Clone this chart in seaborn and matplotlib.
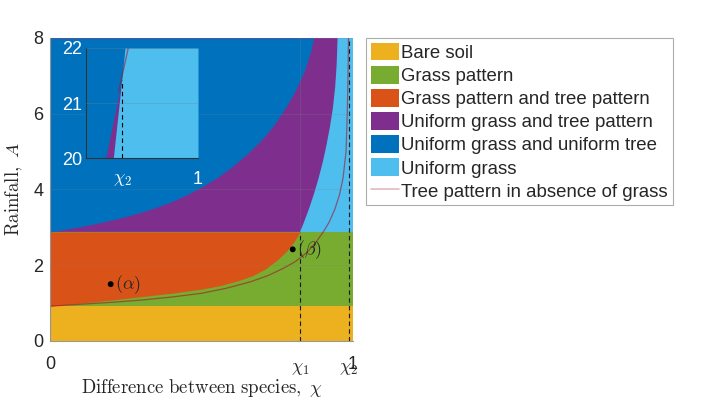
import seaborn as sns
import matplotlib.pyplot as plt
from matplotlib.transforms import ScaledTranslation

sns.set_style("white")
plt.rcParams["font.family"] = ["Liberation Sans", "DejaVu Sans"]
plt.rcParams["mathtext.fontset"] = "cm"

# phase boundaries (chi, rainfall A)
A_bare = 0.92
A_top_pattern = 2.88
chi1 = 0.825
chi2 = 0.9865

# grass pattern / grass+tree pattern boundary
chi_gp = [0, 0.1, 0.2, 0.3, 0.4, 0.5, 0.56, 0.62, 0.67, 0.71, 0.75, 0.78, 0.805, 0.825]
A_gp = [0.92, 1.0, 1.08, 1.17, 1.26, 1.37, 1.46, 1.59, 1.73, 1.9, 2.14, 2.37, 2.62, 2.88]

# uniform tree / tree pattern boundary
chi_ut = [0, 0.05, 0.1, 0.15, 0.2, 0.25, 0.3, 0.35, 0.4, 0.45, 0.5, 0.55, 0.6,
          0.65, 0.7, 0.74, 0.78, 0.81, 0.84, 0.86, 0.87]
A_ut = [2.88, 2.95, 3.02, 3.1, 3.19, 3.29, 3.4, 3.53, 3.68, 3.86, 4.07, 4.31, 4.6,
        4.94, 5.33, 5.72, 6.2, 6.62, 7.15, 7.65, 8.0]

# tree pattern / uniform grass boundary
chi_ug = [0.825, 0.84, 0.855, 0.87, 0.885, 0.9, 0.912, 0.923, 0.933, 0.941, 0.946, 0.949]
A_ug = [2.88, 3.18, 3.5, 3.86, 4.26, 4.72, 5.16, 5.62, 6.12, 6.7, 7.3, 8.0]

# tree pattern without grass
chi_tree = [0, 0.1, 0.2, 0.3, 0.4, 0.5, 0.58, 0.66, 0.72, 0.77, 0.81, 0.845, 0.875,
            0.9, 0.92, 0.94, 0.955, 0.967, 0.977, 0.981, 0.9835, 0.985]
A_tree = [0.92, 0.97, 1.02, 1.08, 1.16, 1.26, 1.39, 1.56, 1.73, 1.92, 2.1, 2.32, 2.58,
          2.86, 3.12, 3.48, 3.85, 4.3, 5.0, 6.0, 7.0, 8.0]

# inset (high rainfall)
ins_A = [20, 21.42, 22]
ins_chi_ut = [0.98352, 0.98638, 0.98696]
ins_chi_ug = [0.98488, 0.98638, 0.98696]
ins_tree_chi = [0.9858, 0.98755]
ins_tree_A = [21.2, 22]

points_chi = [0.199, 0.8007]
points_A = [1.5, 2.42]
points_lbl = [r"$(\alpha)$", r"$(\beta)$"]

labels = ["Bare soil", "Grass pattern", "Grass pattern and tree pattern",
          "Uniform grass and tree pattern", "Uniform grass and uniform tree",
          "Uniform grass", "Tree pattern in absence of grass"]
colors = ["#EDB120", "#77AC30", "#D95319", "#7E2F8E", "#0072BD", "#4DBEEE"]
line_col = "#A2142F"
txt = "#262626"

fig = plt.figure(figsize=(7.12, 3.99), dpi=100)
ax = fig.add_axes([0.0709, 0.1454, 0.4249, 0.7594])

h = []
h.append(ax.fill_between([0, 1], 0, A_bare, color=colors[0], lw=0))
h.append(ax.fill_between([0, 1], A_bare, A_top_pattern, color=colors[1], lw=0))
h.append(ax.fill_between(chi_gp, A_gp, A_top_pattern, color=colors[2], lw=0))
h_lb = ax.fill_between([0, 1], A_top_pattern, 8, color=colors[5], lw=0)
h.append(ax.fill([0] + chi_ug + [0], [A_top_pattern] + A_ug + [8], color=colors[3], lw=0)[0])
h.append(ax.fill_between(chi_ut, A_ut, 8, color=colors[4], lw=0))
h.append(h_lb)

sns.lineplot(x=chi_tree, y=A_tree, ax=ax, color=line_col, lw=0.9, alpha=0.6, sort=False)
ax.plot([chi1, chi1], [0, A_top_pattern], color="k", lw=0.8, dashes=(4, 3))
ax.plot([chi2, chi2], [0, 8], color="k", lw=0.8, dashes=(4, 3))

sns.scatterplot(x=points_chi, y=points_A, ax=ax, color="k", s=18, edgecolor="none", zorder=5)
for c, a, l in zip(points_chi, points_A, points_lbl):
    ax.annotate(l, (c, a), xytext=(3, 0), textcoords="offset points",
                va="center", ha="left", fontsize=13)

ax.set_xlim(0, 1)
ax.set_ylim(0, 8)
ax.set_xticks([0, chi1, chi2, 1])
ax.set_xticklabels(["0", r"$\chi_1$", r"$\chi_2$", "1"])
ax.set_yticks([0, 2, 4, 6, 8])
ax.tick_params(axis="x", length=0, pad=11, labelsize=13, labelcolor=txt)
ax.tick_params(axis="y", length=0, pad=5, labelsize=13, labelcolor=txt)
# the chi labels sit a little lower than the numbers
shift = ScaledTranslation(0, -0.04, fig.dpi_scale_trans)
for lbl in ax.get_xticklabels()[1:3]:
    lbl.set_transform(lbl.get_transform() + shift)
ax.grid(True, color="#808080", alpha=0.25, lw=0.6)
ax.set_axisbelow(False)
for s in ["top", "right"]:
    ax.spines[s].set_visible(False)
for s in ["left", "bottom"]:
    ax.spines[s].set_color("#999999")
    ax.spines[s].set_linewidth(0.8)
ax.set_xlabel(r"$\mathrm{Difference\ between\ species,}\ \chi$", fontsize=13.5, va="center")
ax.xaxis.set_label_coords(0.5, -0.156)
ax.set_ylabel(r"$\mathrm{Rainfall,}\ A$", fontsize=13.5, labelpad=6)

# inset
ins = fig.add_axes([0.1208, 0.604, 0.1573, 0.2757])
ins.set_facecolor("none")
ins.fill_betweenx(ins_A, 0.98, ins_chi_ut, color=colors[4], lw=0)
ins.fill_betweenx(ins_A, ins_chi_ut, ins_chi_ug, color=colors[3], lw=0)
ins.fill_betweenx(ins_A, ins_chi_ug, 1.0, color=colors[5], lw=0)
sns.lineplot(x=ins_tree_chi, y=ins_tree_A, ax=ins, color=line_col, lw=0.9, alpha=0.6, sort=False)
ins.plot([chi2, chi2], [20, ins_A[1]], color="k", lw=0.8, dashes=(4, 3))
ins.set_xlim(0.98, 1.0)
ins.set_ylim(20, 22)
ins.set_xticks([chi2, 1])
ins.set_xticklabels([r"$\chi_2$", "1"])
ins.set_yticks([20, 21, 22])
ins.tick_params(axis="x", length=0, pad=9, labelsize=13, labelcolor="white")
ins.tick_params(axis="y", length=0, pad=3, labelsize=13, labelcolor="white")
ins.grid(True, axis="y", color="#808080", alpha=0.35, lw=0.6)
ins.set_axisbelow(False)
for s in ["top", "right"]:
    ins.spines[s].set_visible(False)
for s in ["left", "bottom"]:
    ins.spines[s].set_color("#333333")
    ins.spines[s].set_linewidth(0.8)

handles = h + [plt.Line2D([], [], color=line_col, lw=1.2, alpha=0.3)]
leg = fig.legend(handles, labels, loc="upper left", bbox_to_anchor=(0.514, 0.905),
                 fontsize=13.4, frameon=True, fancybox=False, edgecolor="#999999",
                 handlelength=1.5, handleheight=1.1, handletextpad=0.15,
                 labelspacing=0.21, borderpad=0.25, borderaxespad=0)
leg.get_frame().set_linewidth(0.8)

fig.savefig("out.png", dpi=100)
